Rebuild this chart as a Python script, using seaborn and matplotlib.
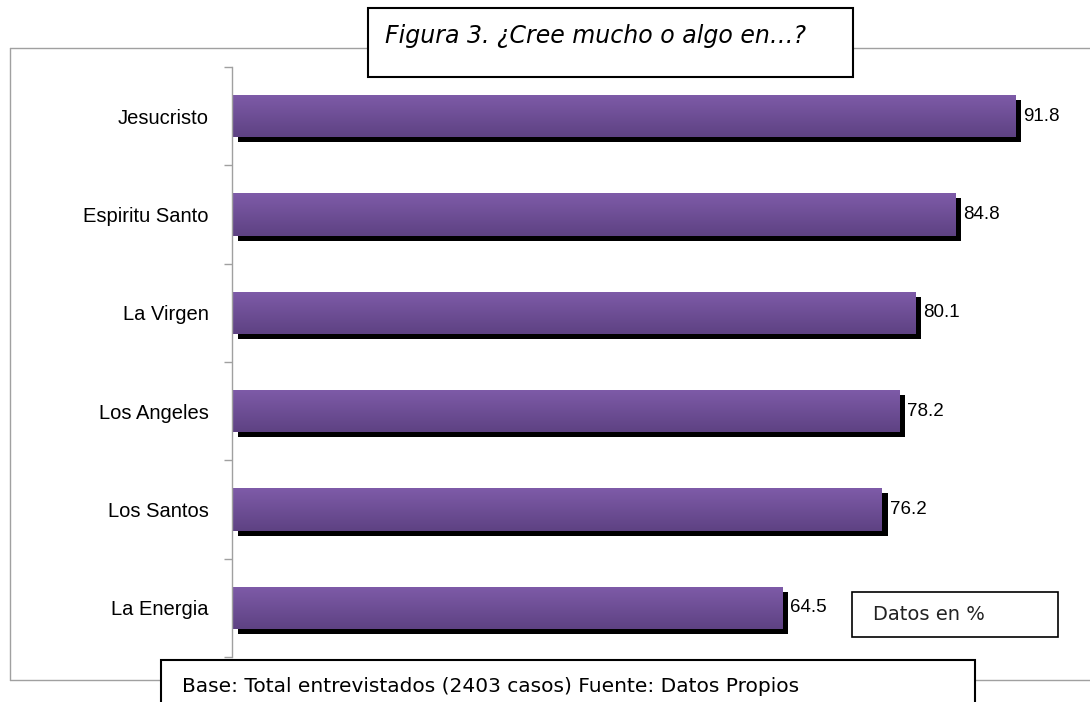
import numpy as np
import pandas as pd
import matplotlib
matplotlib.use("Agg")
import matplotlib.pyplot as plt
import matplotlib.transforms as mtransforms
from matplotlib.lines import Line2D
from matplotlib.patches import Rectangle
from matplotlib.colors import LinearSegmentedColormap
import seaborn as sns

categories = ["Jesucristo", "Espiritu Santo", "La Virgen", "Los Angeles", "Los Santos", "La Energia"]
values = [91.8, 84.8, 80.1, 78.2, 76.2, 64.5]
title_text = "Figura 3. \u00bfCree mucho o algo en\u2026?"
note_text = "Datos en %"
footer_text = "Base: Total entrevistados (2403 casos) Fuente: Datos Propios"

df = pd.DataFrame({"cat": categories, "val": values})

sns.set_theme(style="white")
plt.rcParams["font.family"] = ["Liberation Sans", "DejaVu Sans"]

W, H = 1090, 702
fig = plt.figure(figsize=(W / 100, H / 100), dpi=100)

def fx(x):
    return x / W

def fy(y):
    return 1 - y / H

ax = fig.add_axes([fx(232), fy(657), fx(1085) - fx(232), fy(67) - fy(657)])

bar_w = 0.43
# shadow bars
sns.barplot(data=df, x="val", y="cat", orient="h", color="black", width=bar_w,
            saturation=1, ax=ax, errorbar=None)
n_sh = len(ax.patches)
shift = mtransforms.ScaledTranslation(6 / 100, -5 / 100, fig.dpi_scale_trans)
for p in ax.patches[:n_sh]:
    p.set_transform(ax.transData + shift)
    p.set_edgecolor("none")
# main bars
sns.barplot(data=df, x="val", y="cat", orient="h", color="#7256a0", width=bar_w,
            saturation=1, ax=ax, errorbar=None)
cmap = LinearSegmentedColormap.from_list("pg", ["#7e5ba8", "#5e4283"])
grad = np.linspace(0, 1, 64).reshape(-1, 1)
for p in ax.patches[n_sh:]:
    p.set_edgecolor("none")
    x0, y0 = p.get_x(), p.get_y()
    w, h = p.get_width(), p.get_height()
    im = ax.imshow(grad, cmap=cmap, aspect="auto", extent=[x0, x0 + w, y0 + h, y0],
                   origin="upper", zorder=p.get_zorder() + 0.1)
    im.set_clip_path(p)

ax.set_xlim(0, 100)
ax.set_ylim(len(categories) - 0.5, -0.5)
ax.set_xlabel("")
ax.set_ylabel("")
ax.set_xticks([])
for s in ["top", "right", "bottom"]:
    ax.spines[s].set_visible(False)
ax.spines["left"].set_color("#a0a0a0")
ax.spines["left"].set_linewidth(1.0)
ax.set_yticks(range(len(categories)))
ax.set_yticklabels(categories, fontsize=14.5, color="black")
ax.set_yticks(np.arange(-0.5, len(categories), 1.0), minor=True)
ax.tick_params(axis="y", which="major", length=0, pad=17)
ax.tick_params(axis="y", which="minor", length=6, color="#a0a0a0", width=1, left=True)
ax.set_facecolor("none")

label_off = mtransforms.offset_copy(ax.transData, fig=fig, x=8, y=0, units="dots")
for i, v in enumerate(values):
    ax.text(v, i, f"{v:.1f}", transform=label_off, ha="left", va="center",
            fontsize=13.5, color="black")

# outer frame
frame_col = "#a0a0a0"
fig.add_artist(Line2D([fx(10), fx(10)], [fy(48), fy(680)], color=frame_col, lw=1))
fig.add_artist(Line2D([fx(10), 1], [fy(48), fy(48)], color=frame_col, lw=1))
fig.add_artist(Line2D([fx(10), 1], [fy(680), fy(680)], color=frame_col, lw=1))

# title box
fig.add_artist(Rectangle((fx(368), fy(77)), fx(853) - fx(368), fy(8) - fy(77),
                         facecolor="white", edgecolor="black", lw=1.5, zorder=5))
fig.text(fx(385), fy(36), title_text, ha="left", va="center", fontsize=17,
         style="italic", family=["DejaVu Sans"], color="black", zorder=6)

# note box
fig.add_artist(Rectangle((fx(852), fy(637)), fx(1058) - fx(852), fy(592) - fy(637),
                         facecolor="white", edgecolor="black", lw=1.2, zorder=5))
fig.text(fx(873), fy(615), note_text, ha="left", va="center", fontsize=14,
         family=["DejaVu Sans"], color="#222222", zorder=6)

# footer box
fig.add_artist(Rectangle((fx(161), fy(710)), fx(975) - fx(161), fy(660) - fy(710),
                         facecolor="white", edgecolor="black", lw=1.5, zorder=5))
fig.text(fx(182), fy(686), footer_text, ha="left", va="center", fontsize=14.5,
         family=["DejaVu Sans"], color="black", zorder=6)

fig.savefig("out.png", dpi=100)
